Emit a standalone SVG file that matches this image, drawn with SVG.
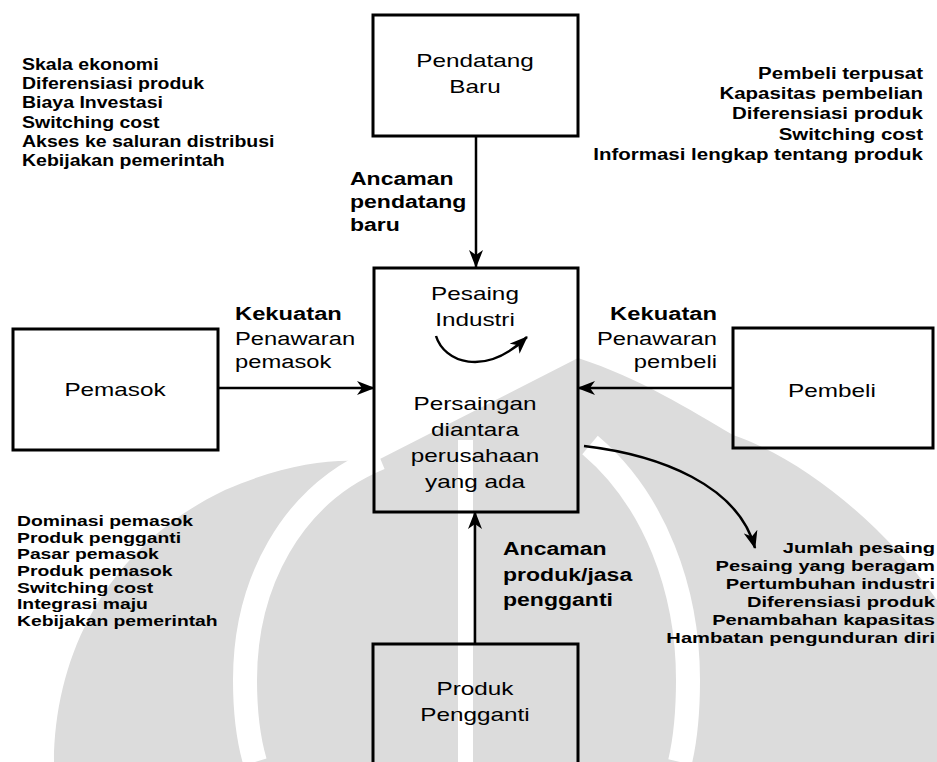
<svg xmlns="http://www.w3.org/2000/svg" width="937" height="762" viewBox="0 0 937 762">
<defs>
<style>
.box{fill:none;stroke:#000;stroke-width:3}
.con{fill:none;stroke:#000;stroke-width:2.5}
.t{font-family:"Liberation Sans",Arial,sans-serif;fill:#000}
.bl{font-size:18px;text-anchor:middle}
.lb{font-size:18px}
.b{font-weight:bold}
.l1{font-size:16px;font-weight:bold}
.l2{font-size:14px;font-weight:bold}
.end{text-anchor:end}
.wm{fill:#dcdcdc}
.wl{fill:none;stroke:#fff;stroke-width:24}
</style>
<marker id="ah" viewBox="0 0 18 14" refX="17" refY="7" markerWidth="18" markerHeight="14" markerUnits="userSpaceOnUse" orient="auto">
<path d="M0,0 L18,7 L0,14 L5,7 z" fill="#000"/>
</marker>
</defs>
<rect width="937" height="762" fill="#fff"/>

<g id="watermark">
<path class="wm" d="M54,762 C55,650 110,545 225,490 C290,462 335,458 374,462 L578,358 C640,378 690,410 733,435 C800,458 880,520 937,600 L937,762 Z"/>
<rect x="458" y="440" width="15" height="322" fill="#fff"/>
<path class="wl" d="M380,458 C290,495 245,585 245,680 C245,720 250,745 255,762"/>
<path class="wl" d="M590,445 C655,500 688,590 688,680 C688,720 684,745 680,762"/>
</g>

<g id="connectors">
<line class="con" x1="476" y1="137" x2="476" y2="267" marker-end="url(#ah)"/>
<line class="con" x1="218" y1="388" x2="374" y2="388" marker-end="url(#ah)"/>
<line class="con" x1="733" y1="388" x2="578" y2="388" marker-end="url(#ah)"/>
<line class="con" x1="475" y1="644" x2="475" y2="512" marker-end="url(#ah)"/>
<path class="con" stroke-width="3" d="M436,336 C444,362 484,378 527,337" marker-end="url(#ah)"/>
<path class="con" stroke-width="3" d="M584,446 C660,455 738,485 755,548" marker-end="url(#ah)"/>
</g>

<g id="pendatang-baru">
<rect class="box" x="373" y="15" width="205" height="121"/>
<g transform="translate(475,0) scale(1.35,1)"><text class="t bl" x="0" y="67">Pendatang</text><text class="t bl" x="0" y="93">Baru</text></g>
</g>

<g id="pesaing-industri">
<rect class="box" x="374" y="268" width="204" height="244"/>
<g transform="translate(475,0) scale(1.35,1)">
<text class="t bl" x="0" y="300">Pesaing</text>
<text class="t bl" x="0" y="326">Industri</text>
<text class="t bl" x="0" y="410">Persaingan</text>
<text class="t bl" x="0" y="436">diantara</text>
<text class="t bl" x="0" y="462">perusahaan</text>
<text class="t bl" x="0" y="488">yang ada</text>
</g>
</g>

<g id="pemasok">
<rect class="box" x="13" y="329" width="205" height="121"/>
<g transform="translate(115,0) scale(1.35,1)"><text class="t bl" x="0" y="396">Pemasok</text></g>
</g>

<g id="pembeli">
<rect class="box" x="733" y="328" width="200" height="120"/>
<g transform="translate(832,0) scale(1.35,1)"><text class="t bl" x="0" y="397">Pembeli</text></g>
</g>

<g id="produk-pengganti">
<rect class="box" x="373" y="644" width="205" height="140"/>
<g transform="translate(475,0) scale(1.35,1)"><text class="t bl" x="0" y="695">Produk</text><text class="t bl" x="0" y="721">Pengganti</text></g>
</g>

<g id="label-ancaman-pendatang" transform="translate(350,0) scale(1.28,1)">
<text class="t lb b" x="0" y="185">Ancaman</text>
<text class="t lb b" x="0" y="208">pendatang</text>
<text class="t lb b" x="0" y="231">baru</text>
</g>

<g id="label-pemasok" transform="translate(235,0) scale(1.32,1)">
<text class="t lb b" x="0" y="320">Kekuatan</text>
<text class="t lb" x="0" y="345">Penawaran</text>
<text class="t lb" x="0" y="368">pemasok</text>
</g>

<g id="label-pembeli" transform="translate(717,0) scale(1.32,1)">
<text class="t lb b end" x="0" y="320">Kekuatan</text>
<text class="t lb end" x="0" y="345">Penawaran</text>
<text class="t lb end" x="0" y="368">pembeli</text>
</g>

<g id="label-ancaman-produk" transform="translate(503,0) scale(1.28,1)">
<text class="t lb b" x="0" y="555">Ancaman</text>
<text class="t lb b" x="0" y="581">produk/jasa</text>
<text class="t lb b" x="0" y="606">pengganti</text>
</g>

<g id="list-pendatang" transform="translate(22,0) scale(1.22,1)">
<text class="t l1" x="0" y="70">Skala ekonomi</text>
<text class="t l1" x="0" y="89">Diferensiasi produk</text>
<text class="t l1" x="0" y="108">Biaya Investasi</text>
<text class="t l1" x="0" y="128">Switching cost</text>
<text class="t l1" x="0" y="147">Akses ke saluran distribusi</text>
<text class="t l1" x="0" y="166">Kebijakan pemerintah</text>
</g>

<g id="list-pembeli" transform="translate(923,0) scale(1.28,1)">
<text class="t l1 end" x="0" y="79">Pembeli terpusat</text>
<text class="t l1 end" x="0" y="99">Kapasitas pembelian</text>
<text class="t l1 end" x="0" y="119">Diferensiasi produk</text>
<text class="t l1 end" x="0" y="140">Switching cost</text>
<text class="t l1 end" x="0" y="160">Informasi lengkap tentang produk</text>
</g>

<g id="list-pemasok" transform="translate(17,0) scale(1.38,1)">
<text class="t l2" x="0" y="526">Dominasi pemasok</text>
<text class="t l2" x="0" y="543">Produk pengganti</text>
<text class="t l2" x="0" y="559">Pasar pemasok</text>
<text class="t l2" x="0" y="576">Produk pemasok</text>
<text class="t l2" x="0" y="593">Switching cost</text>
<text class="t l2" x="0" y="609">Integrasi maju</text>
<text class="t l2" x="0" y="626">Kebijakan pemerintah</text>
</g>

<g id="list-persaingan" transform="translate(935,0) scale(1.44,1)">
<text class="t l2 end" x="0" y="553">Jumlah pesaing</text>
<text class="t l2 end" x="0" y="571">Pesaing yang beragam</text>
<text class="t l2 end" x="0" y="589">Pertumbuhan industri</text>
<text class="t l2 end" x="0" y="607">Diferensiasi produk</text>
<text class="t l2 end" x="0" y="625">Penambahan kapasitas</text>
<text class="t l2 end" x="0" y="643">Hambatan pengunduran diri</text>
</g>
</svg>
